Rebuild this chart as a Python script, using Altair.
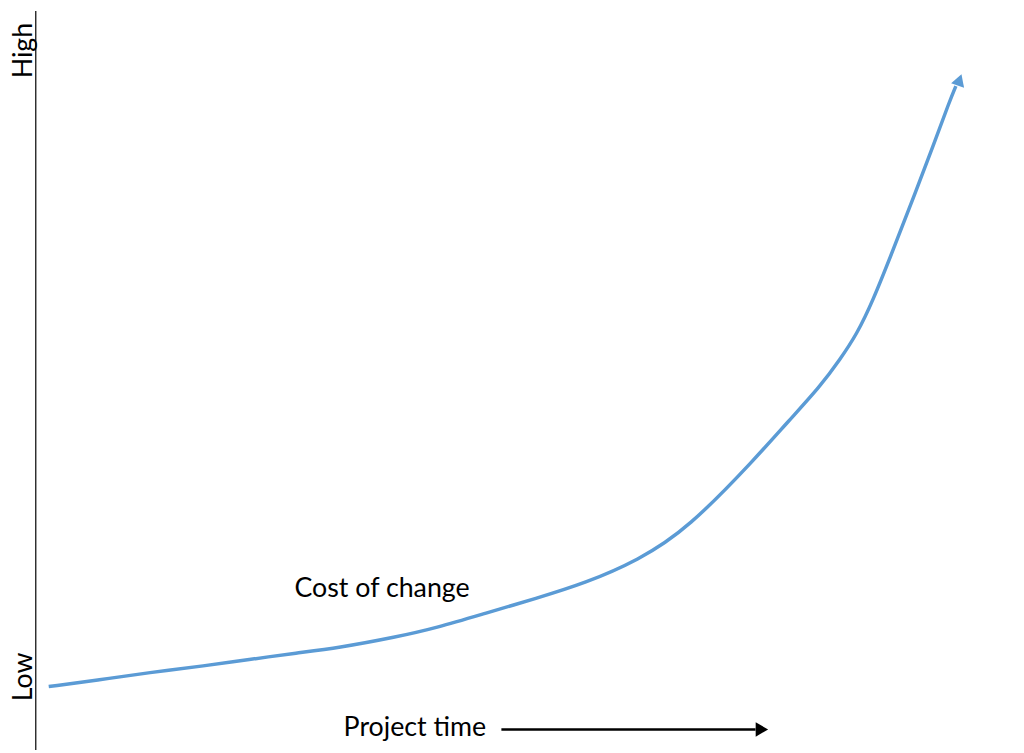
import altair as alt
import pandas as pd

# Curve "Cost of change" (project time 0-100, cost 0-100)
time_vals = [0, 5.6, 11.0, 17.2, 21.9, 27.3, 31.7, 38.2, 42.6, 48.0, 53.5, 58.9,
             64.7, 70.2, 77.8, 81.05, 84.75, 86.9, 88.7, 90.5, 92.7, 94.9, 97.1, 98.9, 99.6]
cost_vals = [0, 1.1, 2.3, 3.4, 4.4, 5.5, 6.3, 8.1, 9.6, 12.0, 14.4, 16.9,
             20.6, 25.8, 37.6, 43.1, 49.1, 53.5, 57.5, 63.05, 71.3, 79.7, 88.3, 95.6, 98.1]

# arrow head of the curve
head_time = [100.0]
head_cost = [99.1]

# axis labels
axis_labels = ["High", "Low"]
axis_label_time = [-1.85, -1.85]
axis_label_cost = [103.9, 1.6]

# annotations
curve_label = ["Cost of change"]
curve_label_time = [36.6]
curve_label_cost = [14.6]
xlabel = ["Project time"]
xlabel_time = [40.2]
xlabel_cost = [-8.1]
xarrow_time = [49.7, 77.6]
xarrow_cost = [-7.0, -7.0]
xarrow_head_time = [78.3]
xarrow_head_cost = [-7.0]
axis_line_time = [-1.42]
axis_line_cost = [-10.37, 110.37]

XDOM = [-4.47, 106.2]
YDOM = [-10.37, 110.37]
xs = alt.Scale(domain=XDOM, nice=False, zero=False)
ys = alt.Scale(domain=YDOM, nice=False, zero=False)
FONT = "Lato"
BLUE = "#5B9BD5"


def X():
    return alt.X("t:Q", scale=xs, axis=None)


def Y(f="c"):
    return alt.Y(f + ":Q", scale=ys, axis=None)


curve_df = pd.DataFrame({"t": time_vals, "c": cost_vals})
curve = alt.Chart(curve_df).mark_line(color=BLUE, strokeWidth=3.5, interpolate="basis").encode(
    x=X(), y=Y()
)

head = alt.Chart(pd.DataFrame({"t": head_time, "c": head_cost})).mark_point(
    shape="triangle-up", filled=True, color=BLUE, opacity=1, size=190, angle=19
).encode(x=X(), y=Y())

axis_line = alt.Chart(pd.DataFrame({"t": axis_line_time, "c0": [axis_line_cost[0]], "c1": [axis_line_cost[1]]})).mark_rule(
    color="black", strokeWidth=1.2
).encode(x=X(), y=Y("c0"), y2="c1:Q")

ax_labels = alt.Chart(pd.DataFrame({"label": axis_labels, "t": axis_label_time, "c": axis_label_cost})).mark_text(
    angle=270, font=FONT, fontSize=27, color="black", align="center", baseline="alphabetic"
).encode(x=X(), y=Y(), text="label:N")

cl = alt.Chart(pd.DataFrame({"label": curve_label, "t": curve_label_time, "c": curve_label_cost})).mark_text(
    font=FONT, fontSize=27, color="black", align="center", baseline="alphabetic"
).encode(x=X(), y=Y(), text="label:N")

xl = alt.Chart(pd.DataFrame({"label": xlabel, "t": xlabel_time, "c": xlabel_cost})).mark_text(
    font=FONT, fontSize=27, color="black", align="center", baseline="alphabetic"
).encode(x=X(), y=Y(), text="label:N")

xarrow = alt.Chart(pd.DataFrame({"t": xarrow_time, "c": xarrow_cost})).mark_line(
    color="black", strokeWidth=2.5
).encode(x=X(), y=Y())

xhead = alt.Chart(pd.DataFrame({"t": xarrow_head_time, "c": xarrow_head_cost})).mark_point(
    shape="triangle-right", filled=True, color="black", opacity=1, size=210
).encode(x=X(), y=Y())

chart = alt.layer(axis_line, curve, head, ax_labels, cl, xl, xarrow, xhead).properties(
    width=1016, height=745, autosize=alt.AutoSizeParams(type="none"), padding=0,
    background="white"
).configure_view(stroke=None, strokeWidth=0)

chart.save("out.html", embed_options={"renderer": "svg", "actions": False})
